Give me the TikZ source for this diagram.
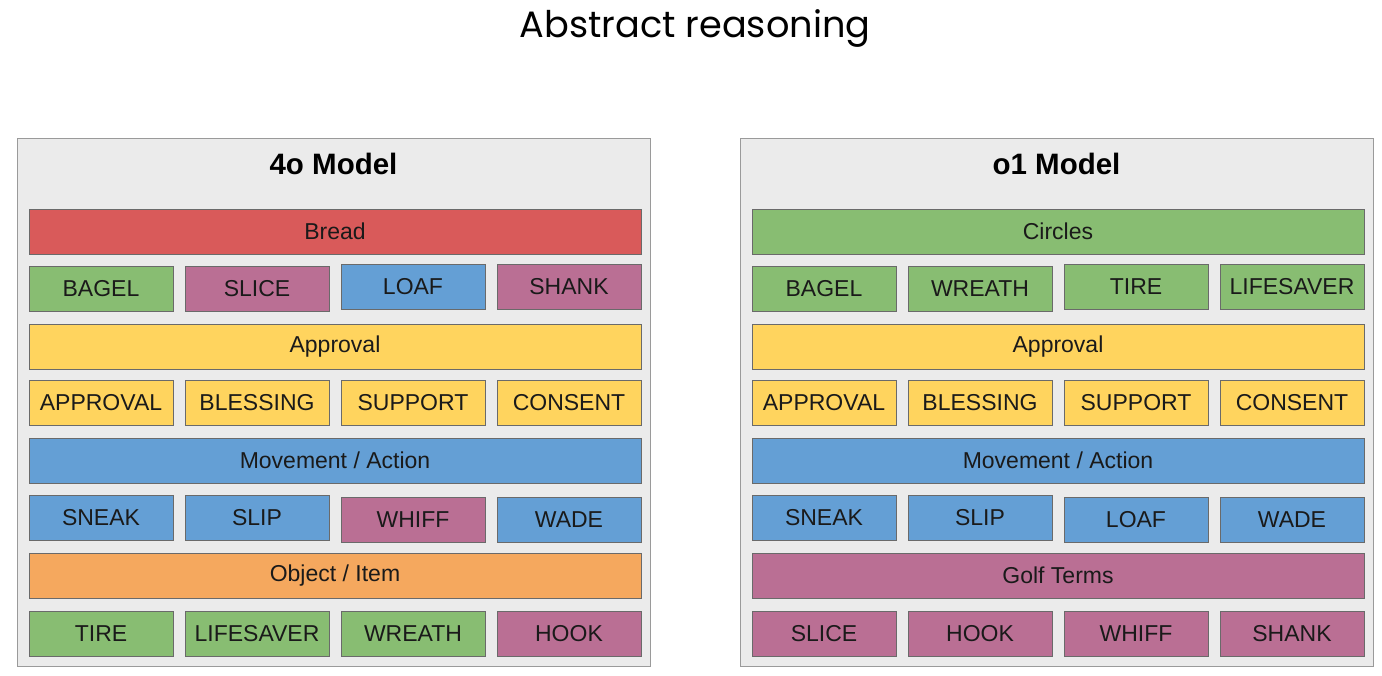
\documentclass[tikz,border=0pt]{standalone}
\usepackage{fontspec}
\setmainfont{Liberation Sans}
\newfontfamily\poppins{Poppins}
\definecolor{cred}{HTML}{D95A5A}
\definecolor{cgreen}{HTML}{88BD72}
\definecolor{cpurple}{HTML}{BA6F94}
\definecolor{cblue}{HTML}{649FD5}
\definecolor{cyellow}{HTML}{FFD45E}
\definecolor{corange}{HTML}{F5A85E}
\definecolor{panelbg}{HTML}{EBEBEB}
\definecolor{panelline}{HTML}{9A9A9A}
\definecolor{boxline}{HTML}{6A6A6A}
\definecolor{txt}{HTML}{1A1A1A}
\tikzset{
  panel/.style={draw=panelline, fill=panelbg, line width=1pt, minimum width=633, minimum height=528, inner sep=0pt},
  ptitle/.style={font=\bfseries\fontsize{29.5}{32}\selectfont, text=black},
  cell/.style={draw=boxline, line width=0.8pt, minimum width=144, minimum height=45, inner sep=0pt, font=\fontsize{23}{26}\selectfont, text=txt},
  bar/.style={cell, minimum width=612},
}
\begin{document}
\begin{tikzpicture}[x=1pt, y=-1pt]
\useasboundingbox (0,0) rectangle (1382,675);
\node[anchor=base, font=\poppins\fontsize{36.7}{40}\selectfont, text=black] (title) at (695,37) {Abstract reasoning};

% Left panel
\node[panel] (lp) at (333.5,402) {};
\node[ptitle] (lt) at (333.5,164) {4o Model};
\node[bar, fill=cred] (lb1) at (335,231.5) {Bread};
\node[cell, fill=cgreen] (l11) at (101,288.5) {BAGEL};
\node[cell, fill=cpurple] (l12) at (257,288.5) {SLICE};
\node[cell, fill=cblue] (l13) at (413,286.5) {LOAF};
\node[cell, fill=cpurple] (l14) at (569,286.5) {SHANK};
\node[bar, fill=cyellow] (lb2) at (335,346.5) {Approval};
\node[cell, fill=cyellow] (l21) at (101,402.5) {APPROVAL};
\node[cell, fill=cyellow] (l22) at (257,402.5) {BLESSING};
\node[cell, fill=cyellow] (l23) at (413,402.5) {SUPPORT};
\node[cell, fill=cyellow] (l24) at (569,402.5) {CONSENT};
\node[bar, fill=cblue] (lb3) at (335,460.5) {Movement / Action};
\node[cell, fill=cblue] (l31) at (101,517.5) {SNEAK};
\node[cell, fill=cblue] (l32) at (257,517.5) {SLIP};
\node[cell, fill=cpurple] (l33) at (413,519.5) {WHIFF};
\node[cell, fill=cblue] (l34) at (569,519.5) {WADE};
\node[bar, fill=corange] (lb4) at (335,575.5) {Object / Item};
\node[cell, fill=cgreen] (l41) at (101,633.5) {TIRE};
\node[cell, fill=cgreen] (l42) at (257,633.5) {LIFESAVER};
\node[cell, fill=cgreen] (l43) at (413,633.5) {WREATH};
\node[cell, fill=cpurple] (l44) at (569,633.5) {HOOK};

% Right panel
\node[panel] (rp) at (1056.5,402) {};
\node[ptitle] (rt) at (1056.5,164) {o1 Model};
\node[bar, fill=cgreen] (rb1) at (1058,231.5) {Circles};
\node[cell, fill=cgreen] (r11) at (824,288.5) {BAGEL};
\node[cell, fill=cgreen] (r12) at (980,288.5) {WREATH};
\node[cell, fill=cgreen] (r13) at (1136,286.5) {TIRE};
\node[cell, fill=cgreen] (r14) at (1292,286.5) {LIFESAVER};
\node[bar, fill=cyellow] (rb2) at (1058,346.5) {Approval};
\node[cell, fill=cyellow] (r21) at (824,402.5) {APPROVAL};
\node[cell, fill=cyellow] (r22) at (980,402.5) {BLESSING};
\node[cell, fill=cyellow] (r23) at (1136,402.5) {SUPPORT};
\node[cell, fill=cyellow] (r24) at (1292,402.5) {CONSENT};
\node[bar, fill=cblue] (rb3) at (1058,460.5) {Movement / Action};
\node[cell, fill=cblue] (r31) at (824,517.5) {SNEAK};
\node[cell, fill=cblue] (r32) at (980,517.5) {SLIP};
\node[cell, fill=cblue] (r33) at (1136,519.5) {LOAF};
\node[cell, fill=cblue] (r34) at (1292,519.5) {WADE};
\node[bar, fill=cpurple] (rb4) at (1058,575.5) {Golf Terms};
\node[cell, fill=cpurple] (r41) at (824,633.5) {SLICE};
\node[cell, fill=cpurple] (r42) at (980,633.5) {HOOK};
\node[cell, fill=cpurple] (r43) at (1136,633.5) {WHIFF};
\node[cell, fill=cpurple] (r44) at (1292,633.5) {SHANK};
\end{tikzpicture}
\end{document}
